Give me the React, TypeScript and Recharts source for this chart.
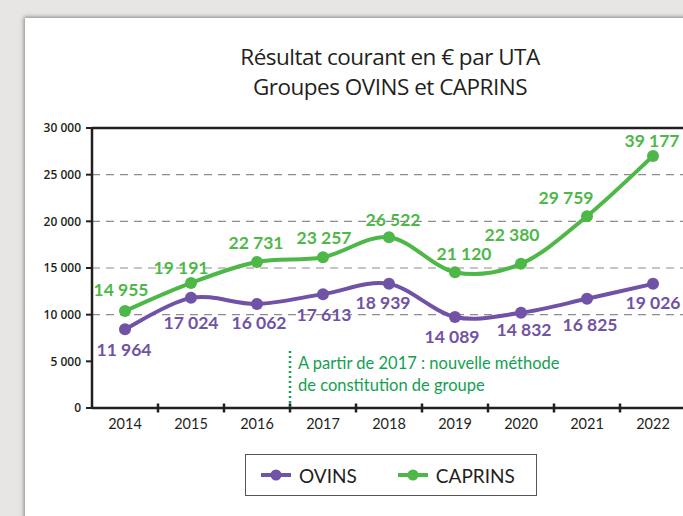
import React from "react";
import {
  LineChart,
  Line,
  XAxis,
  YAxis,
  ReferenceLine,
  LabelList,
  Legend,
} from "recharts";

// ── Data ────────────────────────────────────────────────────────

const years = ["2014", "2015", "2016", "2017", "2018", "2019", "2020", "2021", "2022"];

// where the points sit on the drawing
const ovinsValues = [8450, 11800, 11150, 12200, 13300, 9750, 10200, 11700, 13300];
const caprinsValues = [10400, 13400, 15650, 16150, 18300, 14550, 15450, 20550, 27000];

// printed labels
const ovinsLabels = [11964, 17024, 16062, 17613, 18939, 14089, 14832, 16825, 19026];
const caprinsLabels = [14955, 19191, 22731, 23257, 26522, 21120, 22380, 29759, 39177];

const yTicks = [0, 5000, 10000, 15000, 20000, 25000, 30000];
const gridValues = [10000, 15000, 20000, 25000];
const noteYear = "2017";
const noteTop = 6200;

// label nudges (px) relative to each point
const ovinsLabelDx = [-1, 0, 2, 1, -6, -3, 3, 3, 0];
const ovinsLabelDy = [20, 25, 19, 20, 19, 19, 17, 26, 19];
const caprinsLabelDx = [-4, -10, -1, 1, 4, 9, -9, -21, -1];
const caprinsLabelDy = [-21, -15, -19, -20, -18, -19, -29, -19, -16];

const PURPLE = "#7052a6";
const GREEN = "#4db848";
const NOTE_GREEN = "#12a150";
const INK = "#231f20";
const FONT = "Lato, 'Open Sans', sans-serif";

const data = years.map((y, i) => ({
  year: y,
  ovins: ovinsValues[i],
  caprins: caprinsValues[i],
  ovinsLabel: ovinsLabels[i],
  caprinsLabel: caprinsLabels[i],
}));

const fmt = (v: number) => String(v).replace(/\B(?=(\d{3})+(?!\d))/g, " ");

// Excel-like smoothed line (Catmull-Rom as cubic beziers)
const smoothCurve = (context: any) => {
  let pts: number[][] = [];
  return {
    areaStart() {},
    areaEnd() {},
    lineStart() {
      pts = [];
    },
    point(x: number, y: number) {
      pts.push([+x, +y]);
    },
    lineEnd() {
      if (!pts.length) return;
      context.moveTo(pts[0][0], pts[0][1]);
      const t = 1 / 6;
      for (let i = 0; i < pts.length - 1; i++) {
        const p0 = pts[i - 1] || pts[i];
        const p1 = pts[i];
        const p2 = pts[i + 1];
        const p3 = pts[i + 2] || p2;
        context.bezierCurveTo(
          p1[0] + (p2[0] - p0[0]) * t,
          p1[1] + (p2[1] - p0[1]) * t,
          p2[0] - (p3[0] - p1[0]) * t,
          p2[1] - (p3[1] - p1[1]) * t,
          p2[0],
          p2[1]
        );
      }
    },
  };
};

function makeLabel(color: string, dxs: number[], dys: number[]) {
  return (props: any) => {
    const { x, y, value, index } = props;
    return (
      <text
        x={x + dxs[index]}
        y={y + dys[index]}
        textAnchor="middle"
        dominantBaseline="central"
        fill={color}
        fontFamily={FONT}
        fontWeight={700}
        fontSize={17.5}
      >
        {fmt(value)}
      </text>
    );
  };
}

// short crossing tick at the bottom of a full-height reference line
function BoundaryTick(props: any) {
  const x = props.x1 ?? 0;
  const yb = Math.max(props.y1 ?? 0, props.y2 ?? 0);
  return <line x1={x} x2={x} y1={yb - 4.5} y2={yb + 4.5} stroke={INK} strokeWidth={2.5} />;
}

function NoteLabel(props: any) {
  const vb = props.viewBox || { x: 290, y: 352 };
  const x = vb.x + 8;
  const y = vb.y;
  return (
    <g fontFamily={FONT} fontSize={16.5} fill={NOTE_GREEN}>
      <text x={x} y={y + 19}>A partir de 2017 : nouvelle méthode</text>
      <text x={x} y={y + 41}>de constitution de groupe</text>
    </g>
  );
}

function LegendBox() {
  const item = (color: string, label: string, gap: number) => (
    <div style={{ display: "flex", alignItems: "center", marginRight: gap }}>
      <svg width={32} height={14}>
        <line x1={1} y1={7} x2={31} y2={7} stroke={color} strokeWidth={4} />
        <circle cx={16} cy={7} r={5.5} fill={color} />
      </svg>
      <span style={{ marginLeft: 7, fontSize: 19, color: INK }}>{label}</span>
    </div>
  );
  return (
    <div
      style={{
        boxSizing: "border-box",
        width: 292,
        height: 42,
        border: "1.5px solid #555",
        display: "flex",
        alignItems: "center",
        paddingLeft: 14,
        fontFamily: FONT,
        background: "#fff",
      }}
    >
      {item(PURPLE, "OVINS", 40)}
      {item(GREEN, "CAPRINS", 0)}
    </div>
  );
}

export default function App() {
  return (
    <div
      style={{
        position: "absolute",
        left: 0,
        top: 0,
        width: 683,
        height: 516,
        overflow: "hidden",
        background: "#e8e6e4",
      }}
    >
      <div
        style={{
          position: "absolute",
          left: 25,
          top: 18,
          width: 720,
          height: 560,
          background: "#fff",
          boxShadow: "-1px -1px 4px rgba(60,50,50,0.55)",
        }}
      />
      <div
        style={{
          position: "absolute",
          left: 0,
          top: 42,
          width: 780,
          textAlign: "center",
          fontFamily: "'Open Sans', sans-serif",
          fontSize: 22.5,
          fontWeight: 500,
          letterSpacing: -0.5,
          lineHeight: "30px",
          color: INK,
        }}
      >
        <div>Résultat courant en € par UTA</div>
        <div>Groupes OVINS et CAPRINS</div>
      </div>
      <div style={{ position: "absolute", left: 0, top: 0 }}>
        <LineChart
          width={700}
          height={516}
          data={data}
          margin={{ top: 128, right: 14, bottom: 78, left: 0 }}
        >
          <XAxis
            dataKey="year"
            scale="band"
            height={30}
            tickLine={false}
            tickSize={0}
            tickMargin={11}
            axisLine={{ stroke: INK, strokeWidth: 2.5 }}
            tick={{ fill: INK, fontSize: 14.5, fontFamily: FONT }}
            interval={0}
          />
          <YAxis
            width={92}
            domain={[0, 30000]}
            ticks={yTicks}
            interval={0}
            tickFormatter={fmt}
            tickSize={6}
            tickMargin={5}
            tickLine={{ stroke: INK, strokeWidth: 2 }}
            axisLine={{ stroke: INK, strokeWidth: 2.5 }}
            tick={{
              fill: INK,
              fontSize: 12,
              fontWeight: 600,
              fontFamily: "'Open Sans', sans-serif",
            }}
          />
          {gridValues.map((v) => (
            <ReferenceLine
              key={v}
              y={v}
              stroke="#8c8c8c"
              strokeWidth={1.2}
              strokeDasharray="8 6"
            />
          ))}
          <ReferenceLine y={30000} stroke={INK} strokeWidth={2.5} />
          {years.slice(1).map((yr) => (
            <ReferenceLine
              key={yr}
              x={yr}
              position="start"
              shape={<BoundaryTick />}
            />
          ))}
          <ReferenceLine
            segment={[
              { x: noteYear, y: 0 },
              { x: noteYear, y: noteTop },
            ]}
            position="start"
            stroke={NOTE_GREEN}
            strokeWidth={2.5}
            strokeDasharray="2 3"
            label={<NoteLabel />}
          />
          <Line
            dataKey="ovins"
            name="OVINS"
            type={smoothCurve as any}
            stroke={PURPLE}
            strokeWidth={4}
            dot={{ r: 6, fill: PURPLE, stroke: PURPLE, strokeWidth: 0 }}
            isAnimationActive={false}
          >
            <LabelList
              dataKey="ovinsLabel"
              content={makeLabel(PURPLE, ovinsLabelDx, ovinsLabelDy)}
            />
          </Line>
          <Line
            dataKey="caprins"
            name="CAPRINS"
            type={smoothCurve as any}
            stroke={GREEN}
            strokeWidth={4}
            dot={{ r: 6, fill: GREEN, stroke: GREEN, strokeWidth: 0 }}
            isAnimationActive={false}
          >
            <LabelList
              dataKey="caprinsLabel"
              content={makeLabel(GREEN, caprinsLabelDx, caprinsLabelDy)}
            />
          </Line>
          <Legend
            layout="horizontal"
            verticalAlign="middle"
            align="center"
            content={() => <LegendBox />}
            wrapperStyle={{ left: 245, top: 454, width: 292, height: 42 }}
          />
        </LineChart>
      </div>
    </div>
  );
}
